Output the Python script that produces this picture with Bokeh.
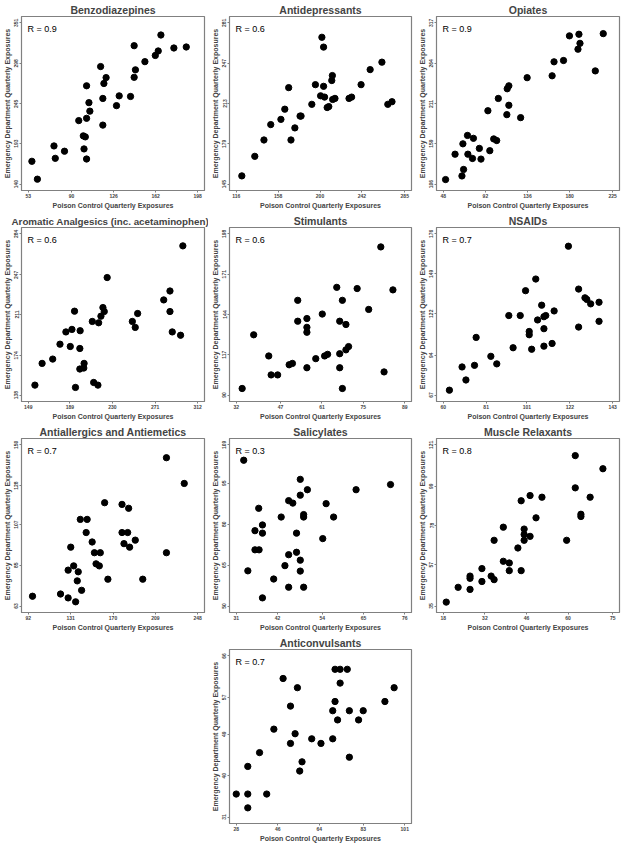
from bokeh.plotting import figure
from bokeh.layouts import gridplot
from bokeh.models import FixedTicker, Label, Range1d
from bokeh.embed import file_html
from bokeh.resources import INLINE

FONT = "Liberation Sans"

# ---------------- data ----------------
titles = ["Benzodiazepines", "Antidepressants", "Opiates",
          "Aromatic Analgesics (inc. acetaminophen)", "Stimulants", "NSAIDs",
          "Antiallergics and Antiemetics", "Salicylates", "Muscle Relaxants",
          "Anticonvulsants"]
r_values = ["0.9", "0.6", "0.9", "0.6", "0.6", "0.7", "0.7", "0.3", "0.8", "0.7"]

benzo_x = [56.1, 60.8, 75.0, 76.1, 84.0, 96.2, 100.1, 101.8, 100.7, 102.9, 102.9, 102.9,
           104.9, 105.7, 114.9, 116.8, 117.7, 119.6, 116.8, 128.5, 130.8, 140.5, 143.6,
           143.6, 144.7, 152.8, 161.7, 164.2, 166.5, 177.6, 188.2]
benzo_y = [169.8, 146.4, 189.9, 173.7, 183.0, 223.1, 203.1, 201.8, 186.0, 172.8, 226.1, 268.7,
           246.6, 235.5, 293.9, 252.1, 271.7, 279.4, 217.2, 242.7, 255.5, 254.7, 321.2,
           279.8, 289.6, 300.3, 308.4, 314.3, 335.2, 318.2, 319.5]
benzo_xticks = [53, 90, 126, 162, 198]
benzo_yticks = [140, 193, 245, 298, 351]

antidep_x = [121.6, 134.6, 143.8, 150.6, 160.8, 164.7, 168.6, 170.9, 174.8, 180.0, 181.0,
             191.8, 195.4, 200.6, 201.9, 203.6, 203.6, 204.6, 207.2, 208.8, 211.8, 212.4,
             212.7, 215.0, 229.1, 231.7, 241.2, 250.3, 262.1, 268.0, 272.2]
antidep_y = [151.9, 168.4, 182.2, 195.2, 199.6, 208.2, 226.4, 182.2, 192.4, 202.4, 202.4,
             212.3, 228.9, 219.5, 268.9, 260.6, 227.5, 218.4, 209.6, 210.4, 232.4, 236.6,
             216.4, 217.3, 217.3, 218.4, 228.9, 241.6, 247.9, 212.3, 214.5]
antidep_xticks = [116, 158, 200, 242, 285]
antidep_yticks = [145, 179, 213, 247, 281]

opiate_x = [50.4, 60.3, 67.5, 69.2, 68.5, 73.3, 73.7, 78.5, 79.5, 85.7, 87.4, 94.6, 96.6,
            100.7, 103.8, 105.5, 114.4, 114.8, 116.5, 116.5, 128.8, 135.6, 161.7, 163.7,
            173.6, 179.8, 188.7, 189.7, 190.8, 206.8, 215.1]
opiate_y = [111.9, 145.1, 116.6, 125.1, 158.7, 169.7, 145.1, 139.5, 165.9, 152.7, 138.7,
            202.0, 149.7, 165.1, 163.0, 218.1, 196.9, 230.8, 234.7, 209.2, 193.0, 245.3,
            247.8, 266.1, 267.8, 300.1, 282.6, 302.2, 290.3, 254.2, 303.0]
opiate_xticks = [48, 92, 136, 180, 225]
opiate_yticks = [106, 159, 211, 264, 317]

arom_x = [155.4, 162.3, 172.5, 179.5, 185.2, 189.4, 191.0, 193.5, 194.4, 198.6, 198.6,
          198.9, 202.4, 202.7, 210.6, 211.9, 216.0, 216.7, 218.9, 220.8, 222.1, 224.9,
          249.1, 251.9, 254.2, 279.3, 285.3, 285.3, 287.5, 295.5, 297.7]
arom_y = [147.0, 166.7, 170.6, 184.1, 195.2, 182.0, 197.5, 214.0, 144.9, 161.6, 180.2,
          196.3, 162.5, 166.7, 204.7, 149.4, 147.0, 203.5, 209.5, 217.3, 213.7, 244.5,
          204.7, 199.3, 211.9, 224.2, 232.3, 213.7, 195.2, 192.2, 273.2]
arom_xticks = [149, 189, 230, 271, 312]
arom_yticks = [138, 174, 211, 247, 284]

stim_x = [34.0, 37.9, 43.0, 43.8, 46.0, 49.9, 51.0, 52.8, 52.8, 55.9, 55.9, 55.9, 55.9,
          58.9, 61.1, 61.9, 62.9, 66.0, 67.0, 67.0, 67.0, 67.9, 67.9, 69.1, 69.1, 70.0,
          72.9, 76.8, 80.9, 82.0, 85.0]
stim_y = [94.4, 130.4, 116.2, 103.5, 103.5, 110.3, 111.2, 153.5, 139.5, 141.3, 135.4,
          132.1, 108.3, 114.4, 144.3, 116.2, 117.3, 162.2, 139.5, 117.7, 108.3, 153.5,
          94.4, 137.3, 120.3, 122.5, 161.4, 147.4, 189.3, 105.5, 160.5]
stim_xticks = [32, 47, 61, 75, 89]
stim_yticks = [90, 117, 144, 171, 198]

nsaid_x = [63.0, 69.2, 71.1, 75.3, 76.1, 83.3, 86.2, 92.1, 94.2, 100.3, 97.7, 102.1, 102.1,
           103.3, 105.3, 106.2, 108.2, 109.3, 109.3, 109.3, 110.2, 113.3, 114.3, 121.3,
           126.3, 126.3, 129.4, 130.3, 132.2, 136.3, 136.3]
nsaid_y = [70.3, 86.0, 77.2, 87.1, 106.0, 93.2, 88.1, 120.8, 99.0, 137.6, 120.8, 110.0,
           107.8, 98.0, 145.5, 117.8, 127.8, 120.0, 111.9, 100.1, 120.8, 101.9, 123.9,
           167.7, 138.7, 113.0, 132.8, 131.7, 128.7, 129.8, 116.9]
nsaid_xticks = [60, 81, 101, 122, 143]
nsaid_yticks = [67, 94, 122, 149, 176]

allerg_x = [95.9, 121.7, 128.7, 128.7, 131.1, 133.8, 135.6, 137.1, 138.0, 139.9, 141.1,
            145.3, 146.2, 150.8, 152.9, 154.4, 157.4, 158.3, 162.3, 165.3, 178.3, 178.3,
            180.1, 183.5, 184.4, 185.3, 190.5, 197.4, 219.2, 219.2, 235.6]
allerg_y = [68.3, 69.5, 67.4, 82.4, 94.8, 84.7, 65.3, 76.6, 81.5, 109.8, 71.5, 102.7,
            109.8, 97.6, 91.8, 85.8, 84.7, 91.8, 118.8, 77.5, 117.9, 102.7, 96.7, 102.7,
            115.8, 94.8, 98.6, 77.5, 143.1, 91.8, 129.2]
allerg_xticks = [92, 131, 170, 209, 248]
allerg_yticks = [63, 85, 107, 128, 150]

salic_x = [33.0, 34.1, 36.0, 36.0, 37.0, 37.1, 38.0, 38.0, 38.0, 41.0, 43.0, 44.0, 45.0,
           45.0, 45.0, 46.1, 47.1, 47.1, 48.1, 48.1, 48.1, 48.1, 49.0, 49.0, 49.0, 50.0,
           54.1, 55.0, 57.0, 63.0, 72.2]
salic_y = [103.4, 62.9, 77.6, 70.6, 85.8, 70.6, 79.7, 76.7, 53.0, 59.9, 82.6, 64.8, 88.6,
           68.8, 56.9, 87.7, 76.7, 69.7, 96.4, 90.6, 66.8, 62.8, 83.5, 82.6, 56.9, 92.6,
           74.7, 87.5, 82.6, 92.6, 94.5]
salic_xticks = [31, 42, 54, 65, 76]
salic_yticks = [50, 65, 80, 95, 109]

muscle_x = [19.0, 23.0, 27.0, 27.0, 27.0, 31.0, 31.0, 34.1, 35.1, 35.1, 38.2, 38.2, 40.2,
            40.2, 43.1, 44.2, 44.2, 45.2, 45.2, 45.2, 47.2, 47.2, 49.2, 51.2, 59.5, 62.4,
            62.4, 64.3, 64.3, 67.4, 71.7]
muscle_y = [37.1, 45.0, 43.9, 51.0, 49.8, 55.0, 48.1, 51.0, 49.1, 70.1, 77.1, 58.9, 58.0,
            53.9, 66.0, 91.2, 53.9, 76.1, 73.2, 70.1, 94.0, 72.2, 82.1, 93.1, 70.1, 115.3,
            98.1, 84.0, 82.8, 93.1, 108.3]
muscle_xticks = [18, 32, 46, 60, 75]
muscle_yticks = [35, 57, 78, 99, 121]

conv_x = [28.0, 33.0, 33.0, 33.0, 38.1, 41.2, 44.3, 48.3, 51.5, 51.5, 53.5, 54.5, 55.5,
          56.5, 60.7, 64.7, 69.8, 69.8, 70.8, 70.8, 71.9, 73.0, 73.0, 76.1, 77.0, 77.0,
          81.0, 83.0, 92.4, 96.4]
conv_y = [36.0, 36.0, 33.0, 42.0, 45.0, 36.0, 50.1, 61.1, 55.1, 47.0, 49.1, 59.1, 41.0,
          43.0, 48.0, 47.0, 48.0, 54.1, 63.1, 56.1, 52.1, 63.1, 60.1, 63.1, 54.1, 44.0,
          52.1, 54.1, 56.1, 59.1]
conv_xticks = [28, 46, 64, 83, 101]
conv_yticks = [31, 40, 49, 57, 66]

panels = [
    (benzo_x, benzo_y, benzo_xticks, benzo_yticks),
    (antidep_x, antidep_y, antidep_xticks, antidep_yticks),
    (opiate_x, opiate_y, opiate_xticks, opiate_yticks),
    (arom_x, arom_y, arom_xticks, arom_yticks),
    (stim_x, stim_y, stim_xticks, stim_yticks),
    (nsaid_x, nsaid_y, nsaid_xticks, nsaid_yticks),
    (allerg_x, allerg_y, allerg_xticks, allerg_yticks),
    (salic_x, salic_y, salic_xticks, salic_yticks),
    (muscle_x, muscle_y, muscle_xticks, muscle_yticks),
    (conv_x, conv_y, conv_xticks, conv_yticks),
]

BOX = "#808080"


def make_panel(i, w, h):
    xs, ys, xt, yt = panels[i]
    xpad = 0.04 * (xt[-1] - xt[0])
    ypad = 0.04 * (yt[-1] - yt[0])
    p = figure(width=w, height=h, output_backend="svg", toolbar_location=None,
               x_range=Range1d(xt[0] - xpad, xt[-1] + xpad),
               y_range=Range1d(yt[0] - ypad, yt[-1] + ypad),
               min_border_left=0, min_border_right=4, min_border_top=0,
               min_border_bottom=0)
    p.title.text = titles[i]
    p.title.text_font = FONT
    p.title.text_font_style = "bold"
    p.title.standoff = 2
    if len(titles[i]) > 32:
        # long title: spread over the whole panel width
        p.title.align = "left"
        p.title.offset = -10
        p.title.text_font_size = "9.8px"
    else:
        p.title.align = "center"
        p.title.offset = 0
        p.title.text_font_size = "10.5px"
    p.xgrid.visible = False
    p.ygrid.visible = False
    p.outline_line_color = BOX
    p.outline_line_width = 1.2
    p.outline_line_alpha = 1
    p.xaxis.axis_label = "Poison Control Quarterly Exposures"
    p.yaxis.axis_label = "Emergency Department Quarterly Exposures"
    p.xaxis.ticker = FixedTicker(ticks=xt)
    p.yaxis.ticker = FixedTicker(ticks=yt)
    p.yaxis.major_label_orientation = "vertical"
    for ax in (p.xaxis[0], p.yaxis[0]):
        ax.axis_label_text_font = FONT
        ax.axis_label_text_font_size = "7px"
        ax.axis_label_text_font_style = "bold"
        ax.axis_label_standoff = 1
        ax.major_label_text_font = FONT
        ax.major_label_text_font_size = "5px"
        ax.major_label_text_font_style = "bold"
        ax.major_label_standoff = 1
        ax.major_tick_in = 0
        ax.major_tick_out = 2
        ax.minor_tick_line_color = None
        ax.axis_line_color = BOX
        ax.major_tick_line_color = BOX
    p.scatter(xs, ys, size=6.3, color="black")
    p.add_layout(Label(x=p.x_range.start, y=p.y_range.end, x_offset=6, y_offset=-7,
                       text="R = " + r_values[i], text_font=FONT, text_font_size="9px",
                       text_baseline="top", text_align="left", text_color="black"))
    return p


widths = [208, 207, 208]
H = 211
figs = [make_panel(i, widths[i % 3] if i < 9 else widths[1], H) for i in range(10)]
grid = gridplot([figs[0:3], figs[3:6], figs[6:9], [None, figs[9], None]],
                toolbar_location=None)

open("out.html", "w").write(file_html(grid, INLINE))
